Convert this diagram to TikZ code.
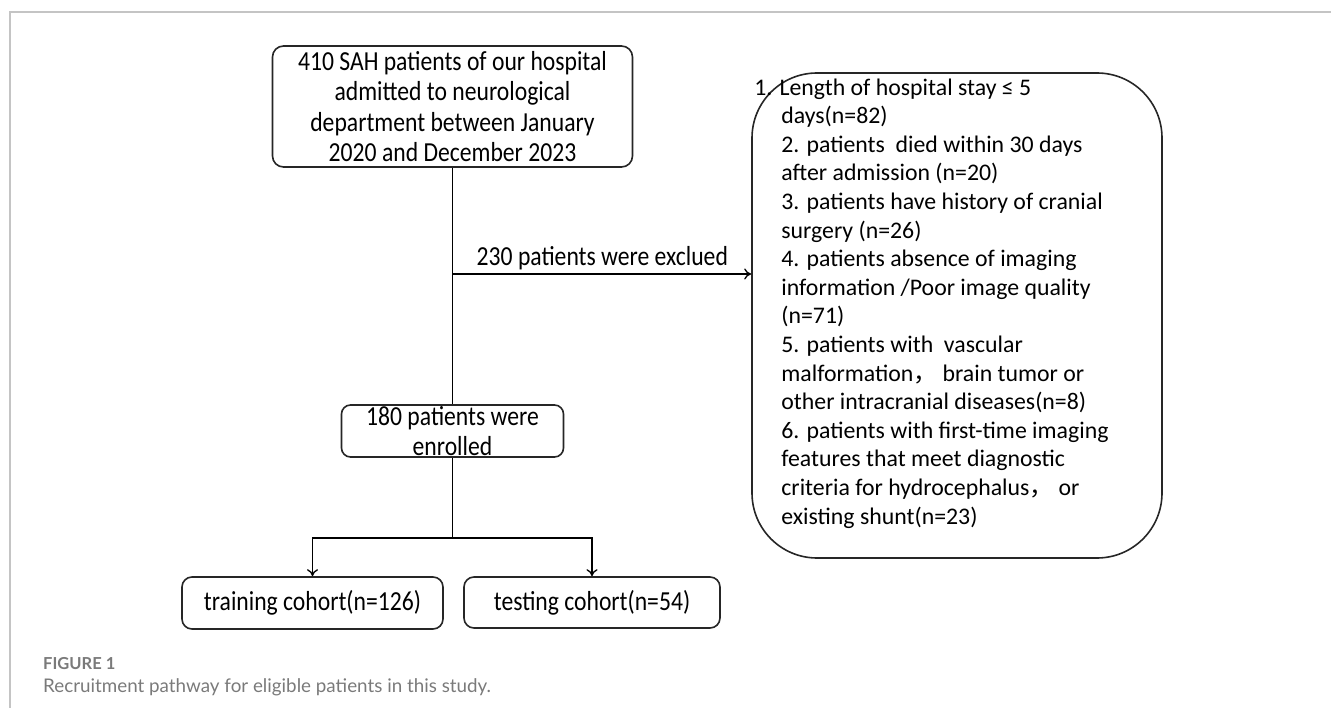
\documentclass[tikz,border=0pt]{standalone}
\usepackage{xcolor}
\usepackage{fontspec}
\setmainfont{Carlito}
\newfontfamily\narrowfont[FakeStretch=0.86]{Carlito}
\newfontfamily\cjk{Noto Sans CJK SC}
\newfontfamily\capfont{Lato}
\usepackage{tikz}
\usetikzlibrary{arrows.meta}
\usetikzlibrary{calc}
\usetikzlibrary{positioning}

\definecolor{boxline}{HTML}{262626}
\definecolor{framecol}{HTML}{C4C4C4}
\definecolor{capgray}{HTML}{7A7A7A}
\newcommand{\boxfont}{\narrowfont\fontsize{27.5}{30.5}\selectfont}
\newcommand{\listfont}{\fontsize{23.8}{28.6}\selectfont}

\tikzset{
  flowbox/.style={draw=boxline, line width=1.6pt, rounded corners=11pt,
    inner sep=0pt, align=center, font=\boxfont},
  exline/.style={anchor=base west, inner sep=0pt, font=\listfont},
  link/.style={line width=1.3pt},
  >={To[length=7pt, width=11pt]}
}

\begin{document}
\begin{tikzpicture}[x=1pt, y=-1pt]

    \useasboundingbox (0, 0) rectangle (1331, 708);
    \draw [framecol, line width=1.5pt] (1331, 12) -- (10, 12) -- (10, 708);

    % boxes
    \node [flowbox, minimum width=360pt, minimum height=121pt] (src) at (452.5, 106.5)
      {410 SAH patients of our hospital\\admitted to neurological\\department between January\\2020 and December 2023};
    \node [flowbox, rounded corners=9pt, minimum width=222pt, minimum height=52pt] (enrol) at (452.5, 431)
      {180 patients were\\enrolled};
    \node [flowbox, rounded corners=10pt, minimum width=261pt, minimum height=52pt] (train) at (312.5, 603)
      {training cohort(n=126)};
    \node [flowbox, rounded corners=10pt, minimum width=256pt, minimum height=51pt] (test) at (592, 602.5)
      {testing cohort(n=54)};
    \node [flowbox, rounded corners=65pt, minimum width=410pt, minimum height=485pt] (excl) at (957, 315.5) {};

    % exclusion reasons
    \node [exline] (ex0) at ($(excl.north west)+(3, 23)$) {1. Length of hospital stay ≤ 5};
    \foreach \t [count=\i] in {
      {days(n=82)},
      {2. patients\hspace{0.45em}died within 30 days},
      {after admission (n=20)},
      {3. patients have history of cranial},
      {surgery (n=26)},
      {4. patients absence of imaging},
      {information /Poor image quality},
      {(n=71)},
      {5. patients with\hspace{0.45em}vascular},
      {malformation{\cjk ，} brain tumor or},
      {other intracranial diseases(n=8)},
      {6. patients with first-time imaging},
      {features that meet diagnostic},
      {criteria for hydrocephalus{\cjk ，} or},
      {existing shunt(n=23)}} {
      \node [exline] (ex\i) at ($(excl.north west)+(30, 23+28.6*\i)$) {\t};
    }

    % connectors
    \coordinate (tee) at (452.5, 274);
    \coordinate (fork) at (452.5, 538);
    \draw [link] (src.south) -- (enrol.north);
    \draw [link, ->] (tee) -- (tee -| excl.west);
    \node [anchor=south west, inner sep=0pt, font=\boxfont, above right=4pt and 24pt of tee] (exlbl)
      {230 patients were exclued};
    \draw [link] (enrol.south) -- (fork);
    \draw [link, ->] (fork) -| (train.north);
    \draw [link, ->] (fork) -| (test.north);

    % caption
    \node [anchor=base west, inner sep=0pt, text=capgray, font=\capfont\bfseries\fontsize{16.5}{18}\selectfont] (fig) at (43, 669)
      {FIGURE 1};
    \node [anchor=base west, inner sep=0pt, text=capgray, font=\capfont\fontsize{18.8}{21}\selectfont] (capt) at (43, 692)
      {Recruitment pathway for eligible patients in this study.};

  \end{tikzpicture}
\end{document}
